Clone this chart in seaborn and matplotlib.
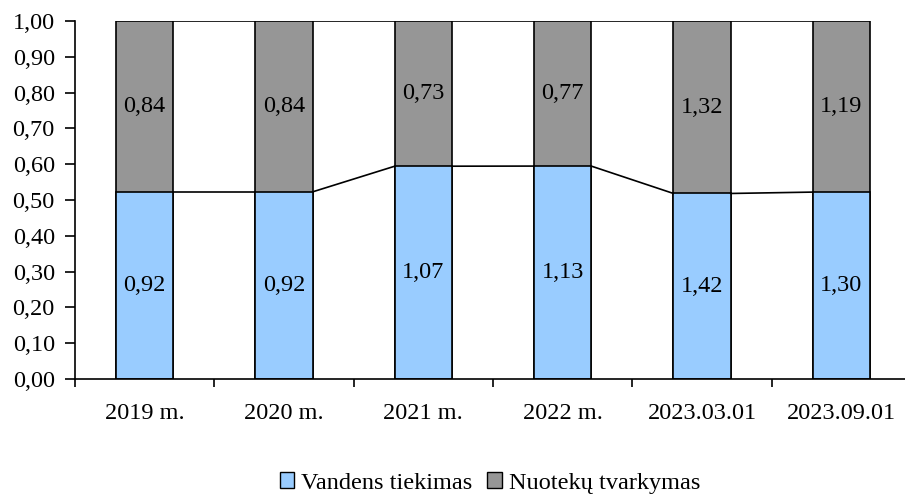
import numpy as np
import pandas as pd
import matplotlib
matplotlib.use("Agg")
import matplotlib.pyplot as plt
from matplotlib.patches import Patch
import seaborn as sns

# duomenys
periodai = ["2019 m.", "2020 m.", "2021 m.", "2022 m.", "2023.03.01", "2023.09.01"]
vanduo = [0.92, 0.92, 1.07, 1.13, 1.42, 1.30]
nuotekos = [0.84, 0.84, 0.73, 0.77, 1.32, 1.19]
y_ticks = [0.0, 0.1, 0.2, 0.3, 0.4, 0.5, 0.6, 0.7, 0.8, 0.9, 1.0]

sns.set_theme(style="white")
plt.rcParams["font.family"] = ["Liberation Serif", "DejaVu Serif"]
plt.rcParams["text.color"] = "black"
plt.rcParams["xtick.color"] = "black"
plt.rcParams["ytick.color"] = "black"

fs = 17.5

df = pd.DataFrame({"periodas": periodai, "vanduo": vanduo, "nuotekos": nuotekos})
df["dalis"] = df["vanduo"] / (df["vanduo"] + df["nuotekos"])
df["visas"] = 1.0

spalva_v = "#99CCFF"
spalva_n = "#969696"
plotis = 0.41

fig = plt.figure(figsize=(9.05, 4.96), dpi=100)
ax = fig.add_axes([75 / 905, 117 / 496, 836 / 905, 358 / 496])

sns.barplot(data=df, x="periodas", y="visas", color=spalva_n, width=plotis,
            edgecolor="black", linewidth=1.2, saturation=1, ax=ax)
sns.barplot(data=df, x="periodas", y="dalis", color=spalva_v, width=plotis,
            edgecolor="black", linewidth=1.2, saturation=1, ax=ax)

# jungiamosios linijos tarp stulpeliu
n = len(df)
for i in range(n - 1):
    ax.plot([i + plotis / 2, i + 1 - plotis / 2], [df["dalis"][i], df["dalis"][i + 1]],
            color="black", lw=1.2, zorder=3)
    ax.plot([i + plotis / 2, i + 1 - plotis / 2], [1, 1], color="black", lw=1.2, zorder=3)

# reiksmes stulpeliuose
for i in range(n):
    d = df["dalis"][i]
    ax.text(i, d / 2, f"{vanduo[i]:.2f}".replace(".", ","), ha="center", va="center", fontsize=fs)
    ax.text(i, d + (1 - d) / 2, f"{nuotekos[i]:.2f}".replace(".", ","), ha="center", va="center", fontsize=fs)

ax.set_xlim(-0.5, n - 0.5)
ax.set_ylim(0, 1)
ax.set_yticks(y_ticks)
ax.set_yticklabels([f"{v:.2f}".replace(".", ",") for v in y_ticks], fontsize=fs)
ax.set_xticks(np.arange(-0.5, n, 1.0))
ax.set_xticklabels([])
ax.set_xticks(np.arange(n), minor=True)
ax.set_xticklabels(periodai, minor=True, fontsize=fs)
ax.tick_params(axis="x", which="major", direction="out", length=6, width=1.2, bottom=True)
ax.tick_params(axis="x", which="minor", length=0, pad=17)
ax.tick_params(axis="y", direction="out", length=7, width=1.2, left=True, pad=7.5)
ax.set_xlabel("")
ax.set_ylabel("")
for s in ["top", "right"]:
    ax.spines[s].set_visible(False)
for s in ["left", "bottom"]:
    ax.spines[s].set_color("black")
    ax.spines[s].set_linewidth(1.2)

rankenos = [Patch(facecolor=spalva_v, edgecolor="black", label="Vandens tiekimas"),
            Patch(facecolor=spalva_n, edgecolor="black", label="Nuotekų tvarkymas")]
fig.legend(handles=rankenos, loc="center", bbox_to_anchor=(490 / 905, 13 / 496), ncol=2,
           frameon=False, fontsize=fs, handlelength=0.6, handleheight=0.6,
           handletextpad=0.3, columnspacing=0.6)

fig.savefig("out.png", dpi=100)
